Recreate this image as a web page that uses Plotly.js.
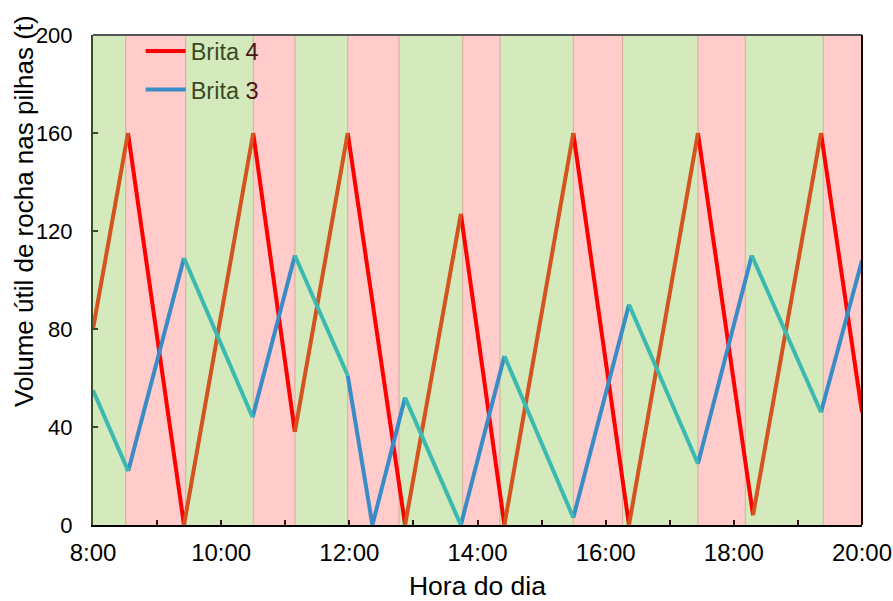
<!DOCTYPE html>
<html>
<head>
<meta charset="utf-8">
<script src="https://cdn.plot.ly/plotly-3.0.1.min.js"></script>
<style>html,body{margin:0;padding:0;background:#fff;}#chart{width:893px;height:601px;}</style>
</head>
<body>
<div id="chart"></div>
<script>
// ---- data (hours of day as decimals) ----
const brita4Time = [8.0, 8.546, 9.42, 10.50, 11.15, 11.975, 12.87, 13.74, 14.42, 15.495, 16.364, 17.44, 18.30, 19.36, 20.0];
const brita4Vol  = [80, 160, 0, 160, 38, 160, 0, 127, 0, 160, 0, 160, 4, 160, 46];
const brita3Time = [8.0, 8.55, 9.42, 10.49, 11.15, 11.975, 12.36, 12.87, 13.74, 14.42, 15.495, 16.364, 17.44, 18.28, 19.36, 20.0];
const brita3Vol  = [55, 22, 109, 44, 110, 61, 0, 52, 0, 69, 3, 90, 25, 110, 46, 108];
// background periods
const bandEdges = [8.0, 8.51, 9.447, 10.502, 11.152, 11.975, 12.775, 13.769, 14.351, 15.495, 16.263, 17.441, 18.179, 19.396, 20.0];
const bandTypes = ['g','r','g','r','g','r','g','r','g','r','g','r','g','r'];
const xTickVals = [8,9,10,11,12,13,14,15,16,17,18,19,20];
const xTickText = ['8:00','','10:00','','12:00','','14:00','','16:00','','18:00','','20:00'];
const yTickVals = [0,40,80,120,160,200];

const bandFill = {g:'#d4eabc', r:'#ffcbcb'};
const FONT = '"Liberation Sans", Arial, sans-serif';

function bandAt(t){
  for(let i=0;i<bandTypes.length;i++){ if(t>=bandEdges[i] && t<=bandEdges[i+1]) return bandTypes[i]; }
  return 'g';
}
function split(times, vals){
  const out={g:{x:[],y:[]}, r:{x:[],y:[]}};
  for(let i=0;i<times.length-1;i++){
    const b=bandAt((times[i]+times[i+1])/2);
    out[b].x.push(times[i],times[i+1],null);
    out[b].y.push(vals[i],vals[i+1],null);
  }
  return out;
}
const s4=split(brita4Time,brita4Vol), s3=split(brita3Time,brita3Vol);
const LW=4;
const n4='<span style="color:#3a4a25">Brita</span><span style="color:#4a1818"> 4</span>';
const n3='<span style="color:#3a4a25">Brita</span><span style="color:#4a1818"> 3</span>';
const traces=[
  {x:s4.r.x,y:s4.r.y,mode:'lines',name:n4,legendgroup:'b4',line:{color:'#ff0000',width:LW},connectgaps:false},
  {x:s4.g.x,y:s4.g.y,mode:'lines',name:n4,legendgroup:'b4',line:{color:'#d5531f',width:LW},showlegend:false,connectgaps:false},
  {x:s3.r.x,y:s3.r.y,mode:'lines',name:n3,legendgroup:'b3',line:{color:'#3a8cc6',width:LW},connectgaps:false},
  {x:s3.g.x,y:s3.g.y,mode:'lines',name:n3,legendgroup:'b3',line:{color:'#3cb9b1',width:LW},showlegend:false,connectgaps:false}
];

const shapes=[];
for(let i=0;i<bandTypes.length;i++){
  shapes.push({type:'rect',xref:'x',yref:'paper',x0:bandEdges[i],x1:bandEdges[i+1],y0:0,y1:1,
    fillcolor:bandFill[bandTypes[i]],line:{width:0},layer:'below'});
  if(i>0) shapes.push({type:'line',xref:'x',yref:'paper',x0:bandEdges[i],x1:bandEdges[i],y0:0,y1:1,
    line:{color:'rgba(205,160,140,0.8)',width:1},layer:'below'});
}
shapes.push({type:'line',xref:'paper',yref:'paper',x0:0,x1:1,y0:1,y1:1,line:{color:'#555',width:2},layer:'above'});
shapes.push({type:'line',xref:'paper',yref:'paper',x0:1,x1:1,y0:0,y1:1,line:{color:'#200000',width:2},layer:'above'});

const layout={
  width:893,height:601,
  margin:{l:93,r:31,t:35,b:76},
  paper_bgcolor:'#ffffff',plot_bgcolor:'#ffffff',
  font:{family:FONT,size:22,color:'#000'},
  showlegend:true,
  legend:{x:0.062,y:1.012,xanchor:'left',yanchor:'top',bgcolor:'rgba(0,0,0,0)',traceorder:'grouped',
    font:{family:FONT,size:23.5,color:'#3a4a25'},tracegroupgap:5,itemwidth:40},
  xaxis:{range:[8,20],tickvals:xTickVals,ticktext:xTickText,ticks:'inside',ticklen:5,tickwidth:2,tickcolor:'#301010',
    showgrid:false,zeroline:false,showline:true,linecolor:'#000',linewidth:2,ticklabelstandoff:5,
    tickfont:{family:FONT,size:24,color:'#000'},
    title:{text:'Hora do dia',font:{family:FONT,size:26.5,color:'#000'},standoff:21}},
  yaxis:{range:[0,200],tickvals:yTickVals,ticks:'inside',ticklen:5,tickwidth:2,tickcolor:'#3a4a25',
    showgrid:false,zeroline:false,showline:true,linecolor:'#3a4a25',linewidth:2,ticklabelstandoff:14,
    tickfont:{family:FONT,size:22,color:'#000'}},
  annotations:[{text:'Volume útil de rocha nas pilhas (t)',xref:'paper',yref:'paper',x:-0.089,y:0.64,
    xanchor:'center',yanchor:'middle',textangle:-90,showarrow:false,font:{family:FONT,size:26,color:'#000'}}],
  shapes:shapes
};
Plotly.newPlot('chart',traces,layout,{staticPlot:true,displayModeBar:false});
</script>
</body>
</html>
